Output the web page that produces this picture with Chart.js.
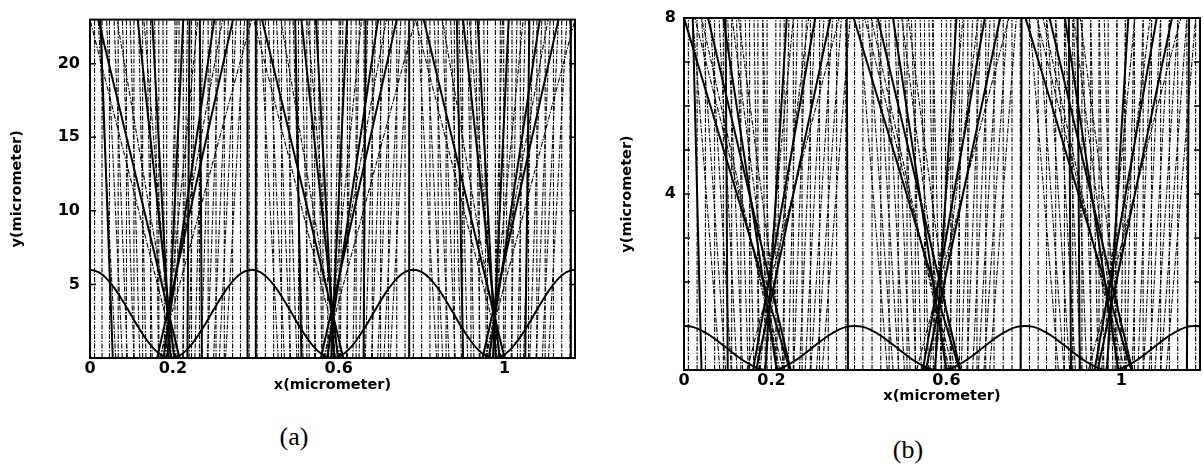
<!DOCTYPE html>
<html>
<head>
<meta charset="utf-8">
<script src="https://cdn.jsdelivr.net/npm/chart.js@4.4.0/dist/chart.umd.min.js"></script>
<style>
  body { margin: 0; background: #fff; width: 1203px; height: 465px; position: relative; overflow: hidden; }
  .panel { position: absolute; top: 0; }
  .cap { position: absolute; font-family: "Liberation Serif", serif; font-size: 26px; color: #000; transform: translate(-50%, -50%); }
</style>
</head>
<body>
<div class="panel" style="left:0px"><canvas id="chartA" width="600" height="400"></canvas></div>
<div class="panel" style="left:600px"><canvas id="chartB" width="603" height="410"></canvas></div>
<div class="cap" style="left:294px;top:437px">(a)</div>
<div class="cap" style="left:908px;top:450px">(b)</div>
<script>
// surface profile (x in micrometer)
const surfaceX  = [0, 0.0195, 0.039, 0.0585, 0.078, 0.0975, 0.117, 0.1365, 0.156, 0.1755, 0.195, 0.2145, 0.234, 0.2535, 0.273,
                   0.2925, 0.312, 0.3315, 0.351, 0.3705, 0.39, 0.4095, 0.429, 0.4485, 0.468, 0.4875, 0.507, 0.5265, 0.546,
                   0.5655, 0.585, 0.6045, 0.624, 0.6435, 0.663, 0.6825, 0.702, 0.7215, 0.741, 0.7605, 0.78, 0.7995, 0.819,
                   0.8385, 0.858, 0.8775, 0.897, 0.9165, 0.936, 0.9555, 0.975, 0.9945, 1.014, 1.0335, 1.053, 1.0725, 1.092,
                   1.1115, 1.131, 1.1505, 1.17, 1.18];
const surfaceYA = [6, 5.85, 5.43, 4.76, 3.93, 3, 2.07, 1.24, 0.57, 0.15, 0, 0.15, 0.57, 1.24, 2.07, 3, 3.93, 4.76, 5.43, 5.85,
                   6, 5.85, 5.43, 4.76, 3.93, 3, 2.07, 1.24, 0.57, 0.15, 0, 0.15, 0.57, 1.24, 2.07, 3, 3.93, 4.76, 5.43, 5.85,
                   6, 5.85, 5.43, 4.76, 3.93, 3, 2.07, 1.24, 0.57, 0.15, 0, 0.15, 0.57, 1.24, 2.07, 3, 3.93, 4.76, 5.43, 5.85,
                   6, 5.97];
const surfaceYB = [1, 0.98, 0.9, 0.79, 0.65, 0.5, 0.35, 0.21, 0.1, 0.02, 0, 0.02, 0.1, 0.21, 0.35, 0.5, 0.65, 0.79, 0.9, 0.98,
                   1, 0.98, 0.9, 0.79, 0.65, 0.5, 0.35, 0.21, 0.1, 0.02, 0, 0.02, 0.1, 0.21, 0.35, 0.5, 0.65, 0.79, 0.9, 0.98,
                   1, 0.98, 0.9, 0.79, 0.65, 0.5, 0.35, 0.21, 0.1, 0.02, 0, 0.02, 0.1, 0.21, 0.35, 0.5, 0.65, 0.79, 0.9, 0.98,
                   1, 0.99];

// panel (a): vertical dash-dot rays (x)
const vertA = [0.011, 0.029, 0.047, 0.068, 0.088, 0.106, 0.127, 0.146, 0.166, 0.185, 0.205, 0.225, 0.245, 0.264, 0.285, 0.304,
               0.324, 0.344, 0.363, 0.384, 0.403, 0.423, 0.443, 0.462, 0.482, 0.503, 0.523, 0.542, 0.562, 0.582, 0.601, 0.621,
               0.642, 0.661, 0.681, 0.701, 0.72, 0.74, 0.76, 0.78, 0.8, 0.82, 0.84, 0.859, 0.879, 0.899, 0.919, 0.939,
               0.959, 0.978, 0.998, 1.018, 1.038, 1.058, 1.078, 1.098, 1.118, 1.138, 1.158];
// panel (a): dash-dot rays [x at bottom, x at top]
const dashA = [[0.062, 0.02], [0.078, 0.04], [0.09, 0.058], [0.106, 0.078], [0.12, 0.097], [0.135, 0.117], [0.15, 0.137],
               [0.165, 0.156], [0.18, 0.176], [0.21, 0.215], [0.224, 0.235], [0.239, 0.255], [0.253, 0.274], [0.268, 0.294],
               [0.283, 0.314], [0.298, 0.334], [0.312, 0.353], [0.327, 0.373],
               [0.454, 0.41], [0.469, 0.43], [0.484, 0.45], [0.499, 0.47], [0.514, 0.49], [0.529, 0.51], [0.544, 0.53],
               [0.559, 0.55], [0.574, 0.57], [0.604, 0.61], [0.619, 0.63], [0.634, 0.65], [0.649, 0.67], [0.664, 0.69],
               [0.679, 0.71], [0.694, 0.73], [0.709, 0.75], [0.724, 0.77],
               [0.836, 0.79], [0.851, 0.81], [0.866, 0.83], [0.881, 0.85], [0.896, 0.87], [0.911, 0.89], [0.926, 0.91],
               [0.941, 0.93], [0.956, 0.95], [0.986, 0.99], [1.001, 1.01], [1.016, 1.03], [1.031, 1.05], [1.046, 1.07],
               [1.061, 1.09], [1.076, 1.11], [1.091, 1.13], [1.106, 1.15],
               [0.208, 0.0], [0.205, 0.065], [0.197, 0.13], [0.189, 0.21], [0.18, 0.26], [0.171, 0.32], [0.168, 0.39],
               [0.603, 0.395], [0.6, 0.46], [0.592, 0.525], [0.584, 0.605], [0.575, 0.655], [0.566, 0.715], [0.563, 0.785],
               [0.993, 0.785], [0.99, 0.85], [0.982, 0.915], [0.974, 0.995], [0.965, 1.045], [0.956, 1.105], [0.953, 1.17]];
// panel (a): solid rays [x at bottom, x at top]
const solidA = [[0.216, 0.02], [0.203, 0.115], [0.194, 0.15], [0.187, 0.225], [0.177, 0.3], [0.162, 0.345],
                [0.611, 0.415], [0.598, 0.51], [0.589, 0.545], [0.582, 0.62], [0.572, 0.695], [0.557, 0.74],
                [1.0, 0.805], [0.988, 0.9], [0.979, 0.935], [0.972, 1.01], [0.962, 1.085], [0.947, 1.13],
                [0.055, 0.025], [0.235, 0.24], [0.27, 0.265], [0.38, 0.38], [0.4, 0.4], [0.51, 0.495],
                [0.66, 0.665], [0.77, 0.77], [0.9, 0.885], [1.05, 1.06], [1.16, 1.16]];

// panel (b)
const vertB = [0.01, 0.03, 0.049, 0.07, 0.09, 0.109, 0.13, 0.15, 0.169, 0.19, 0.21, 0.229, 0.25, 0.27, 0.289, 0.31,
               0.33, 0.349, 0.37, 0.39, 0.409, 0.43, 0.45, 0.469, 0.49, 0.51, 0.529, 0.55, 0.57, 0.589, 0.61, 0.63,
               0.649, 0.67, 0.69, 0.709, 0.73, 0.75, 0.769, 0.79, 0.81, 0.829, 0.85, 0.87, 0.889, 0.91, 0.93, 0.949,
               0.97, 0.99, 1.009, 1.03, 1.05, 1.069, 1.09, 1.11, 1.129, 1.15, 1.17];
const dashB = [[0.082, 0.02], [0.095, 0.04], [0.108, 0.06], [0.121, 0.08], [0.134, 0.1], [0.147, 0.12], [0.16, 0.14],
               [0.173, 0.16], [0.186, 0.18], [0.212, 0.22], [0.225, 0.24], [0.238, 0.26], [0.251, 0.28], [0.264, 0.3],
               [0.277, 0.32], [0.29, 0.34], [0.303, 0.36], [0.316, 0.38],
               [0.465, 0.4], [0.478, 0.42], [0.491, 0.44], [0.504, 0.46], [0.517, 0.48], [0.53, 0.5], [0.543, 0.52],
               [0.559, 0.54], [0.576, 0.56], [0.595, 0.6], [0.608, 0.62], [0.621, 0.64], [0.634, 0.66], [0.647, 0.68],
               [0.66, 0.7], [0.673, 0.72], [0.686, 0.74], [0.699, 0.76],
               [0.856, 0.79], [0.869, 0.81], [0.882, 0.83], [0.895, 0.85], [0.908, 0.87], [0.921, 0.89], [0.934, 0.91],
               [0.947, 0.93], [0.96, 0.95], [0.986, 0.99], [0.999, 1.01], [1.012, 1.03], [1.025, 1.05], [1.038, 1.07],
               [1.051, 1.09], [1.064, 1.11], [1.077, 1.13], [1.09, 1.15], [1.103, 1.17],
               [0.219, 0.04], [0.227, 0.025], [0.23, 0.125], [0.214, 0.11], [0.2, 0.18], [0.174, 0.25], [0.184, 0.285], [0.144, 0.355],
               [0.607, 0.428], [0.615, 0.413], [0.618, 0.513], [0.602, 0.498], [0.588, 0.568], [0.562, 0.638], [0.572, 0.673], [0.532, 0.743],
               [1.0, 0.821], [1.008, 0.806], [1.011, 0.906], [0.995, 0.891], [0.981, 0.961], [0.955, 1.031], [0.965, 1.066], [0.925, 1.136]];
const solidB = [[0.242, 0.0], [0.244, 0.055], [0.212, 0.09], [0.186, 0.235], [0.158, 0.3], [0.165, 0.335],
                [0.63, 0.388], [0.632, 0.443], [0.6, 0.478], [0.574, 0.623], [0.546, 0.688], [0.553, 0.723],
                [1.023, 0.781], [1.025, 0.836], [0.993, 0.871], [0.967, 1.016], [0.939, 1.081], [0.946, 1.116],
                [0.04, 0.02], [0.1, 0.095], [0.375, 0.372], [0.77, 0.772], [0.885, 0.88], [0.905, 0.9], [1.15, 1.155]];

// axes
const xTicks = [0, 0.2, 0.6, 1];
const yTicksA = [5, 10, 15, 20];
const yTicksB = [1, 2, 3, 4, 5, 6, 7, 8];
const yLabelsB = [4, 8];

const tickFont = { family: "DejaVu Sans", size: 16, weight: "bold" };
const titleFont = { family: "DejaVu Sans", size: 14.5, weight: "bold" };

const framePlugin = {
  id: "frame",
  afterDatasetsDraw(chart) {
    const { ctx, chartArea: a, scales } = chart;
    ctx.save();
    ctx.strokeStyle = "#000";
    ctx.lineWidth = 2;
    ctx.strokeRect(a.left, a.top, a.right - a.left, a.bottom - a.top);
    ctx.lineWidth = 1.5;
    ctx.beginPath();
    scales.y.ticks.forEach(t => {
      const py = scales.y.getPixelForValue(t.value);
      ctx.moveTo(a.left, py); ctx.lineTo(a.left + 6, py);
      ctx.moveTo(a.right, py); ctx.lineTo(a.right - 6, py);
    });
    ctx.stroke();
    ctx.restore();
  }
};

function ray(x0, x1, ymax, solid) {
  return {
    data: [{ x: x0, y: 0 }, { x: x1, y: ymax }],
    borderColor: "#000",
    borderWidth: solid ? 2 : 1.1,
    borderDash: solid ? [] : [5, 1.5, 1.5, 1.5],
    pointRadius: 0
  };
}

function makeChart(id, cfg) {
  const datasets = [{
    data: surfaceX.map((x, i) => ({ x, y: cfg.surfaceY[i] })),
    borderColor: "#000",
    borderWidth: 2,
    pointRadius: 0,
    tension: 0.4
  }];
  cfg.solid.forEach(r => datasets.push(ray(r[0], r[1], cfg.yMax, true)));
  cfg.dash.forEach(r => datasets.push(ray(r[0], r[1], cfg.yMax, false)));
  cfg.vert.forEach(x => datasets.push(ray(x, x, cfg.yMax, false)));

  return new Chart(document.getElementById(id), {
    type: "line",
    data: { datasets },
    options: {
      responsive: false,
      animation: false,
      events: [],
      layout: { padding: cfg.padding },
      plugins: { legend: { display: false }, tooltip: { enabled: false } },
      scales: {
        x: {
          type: "linear", min: 0, max: cfg.xMax,
          afterBuildTicks: s => { s.ticks = xTicks.map(v => ({ value: v })); },
          afterFit: s => { s.height = cfg.xHeight; },
          grid: { display: false, drawTicks: false },
          border: { display: false },
          ticks: { padding: 1, color: "#000", font: tickFont, maxRotation: 0, autoSkip: false, callback: v => String(v) },
          title: { display: true, text: "x(micrometer)", color: "#000", font: titleFont, padding: { top: 4, bottom: 4 } }
        },
        y: {
          type: "linear", min: 0, max: cfg.yMax,
          afterBuildTicks: s => { s.ticks = cfg.yTicks.map(v => ({ value: v })); },
          afterFit: s => { s.width = cfg.yWidth; },
          grid: { display: false, drawTicks: false },
          border: { display: false },
          ticks: { padding: cfg.yPad, color: "#000", font: tickFont,
                   callback: v => cfg.yLabels.includes(v) ? String(v) : "" },
          title: { display: true, text: "y(micrometer)", color: "#000", font: titleFont, padding: { top: 4, bottom: 4 } }
        }
      }
    },
    plugins: [framePlugin]
  });
}

makeChart("chartA", {
  surfaceY: surfaceYA, solid: solidA, dash: dashA, vert: vertA,
  xMax: 1.17, yMax: 23, yTicks: yTicksA, yLabels: yTicksA,
  padding: { left: 5, top: 13, right: 25, bottom: 2 }, xHeight: 40, yWidth: 85, yPad: 10
});

makeChart("chartB", {
  surfaceY: surfaceYB, solid: solidB, dash: dashB, vert: vertB,
  xMax: 1.18, yMax: 8, yTicks: yTicksB, yLabels: yLabelsB,
  padding: { left: 15, top: 18, right: 3, bottom: 1 }, xHeight: 39, yWidth: 69, yPad: 8
});
</script>
</body>
</html>
